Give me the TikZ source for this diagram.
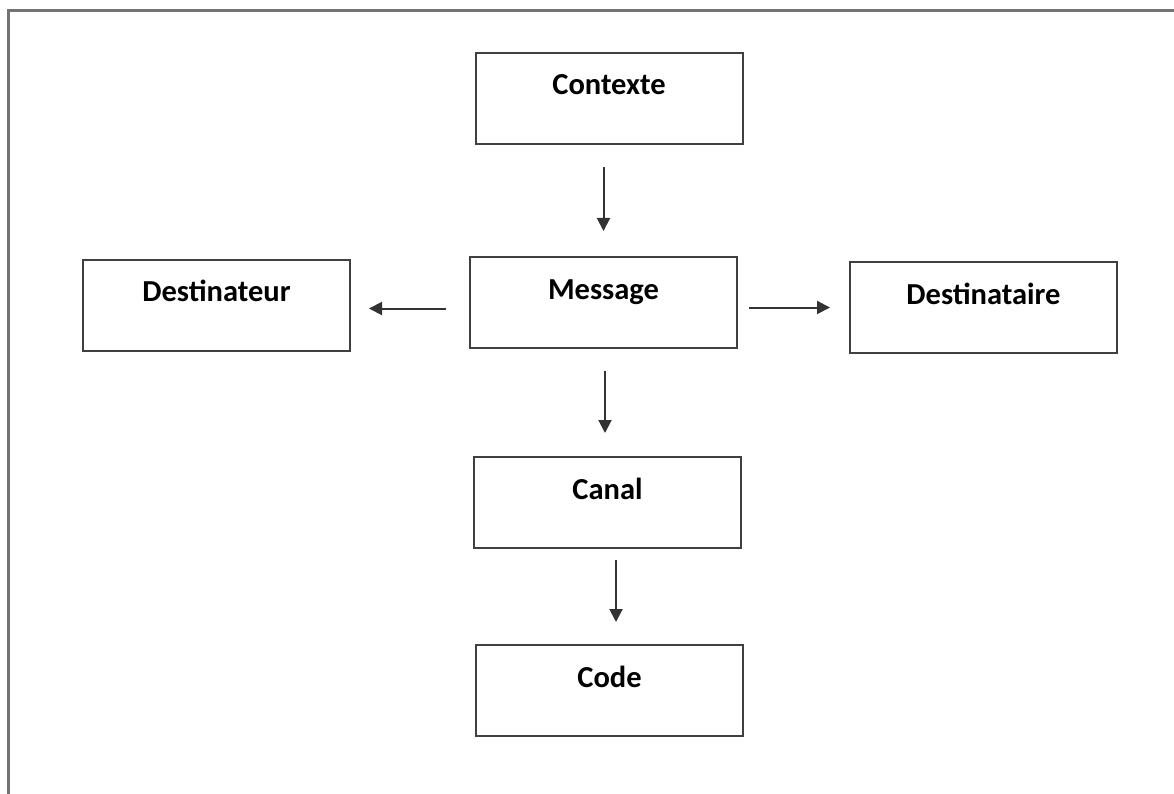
\documentclass[tikz,border=0pt]{standalone}
\usepackage{fontspec}
\setmainfont{Carlito}
\usepackage{tikz}
\usetikzlibrary{arrows.meta,positioning,calc}

\begin{document}
\begin{tikzpicture}[
    x=1pt, y=1pt,
    node distance=100pt,
    box/.style={rectangle, draw=black!75, line width=2pt, minimum width=267pt, minimum height=91pt, inner sep=0pt, text height=22pt, text depth=29pt, font=\fontsize{30.5}{33}\selectfont\bfseries},
    arrow/.style={-{Triangle[length=13pt,width=13pt]}, line width=2pt, black!80},
    frame/.style={line width=2.5pt, black!55}
]
    % Page size and partial frame
    \useasboundingbox (0,0) rectangle (1174,-794);
    \draw[frame] (8.5,-794) -- (8.5,-10.5) -- (1174,-10.5);

    % Central message
    \node[box] (message) at (603.5,-302.5) {Message};

    % Surrounding functions
    \node[box, above=111pt of message, xshift=5.5pt] (contexte) {Contexte};
    \node[box, left=118pt of message, yshift=-2.5pt] (destinateur) {Destinateur};
    \node[box, right=111pt of message, yshift=-5pt] (destinataire) {Destinataire};
    \node[box, below=107pt of message, xshift=4pt] (canal) {Canal};
    \node[box, below=95pt of canal, xshift=2pt] (code) {Code};

    % Arrows
    \draw[arrow, shorten <=22pt, shorten >=25pt] (contexte.south -| message) -- (message.north);
    \draw[arrow, shorten <=23pt, shorten >=18pt] ([yshift=-6pt]message.west) -- ([yshift=-6pt]message.west -| destinateur.east);
    \draw[arrow, shorten <=11pt, shorten >=19pt] ([yshift=-5pt]message.east) -- ([yshift=-5pt]message.east -| destinataire.west);
    \draw[arrow, shorten <=22pt, shorten >=23pt] ([xshift=1.5pt]message.south) -- ([xshift=1.5pt]message.south |- canal.north);
    \draw[arrow, shorten <=11pt, shorten >=22pt] ([xshift=8.5pt]canal.south) -- ([xshift=8.5pt]canal.south |- code.north);
\end{tikzpicture}
\end{document}
